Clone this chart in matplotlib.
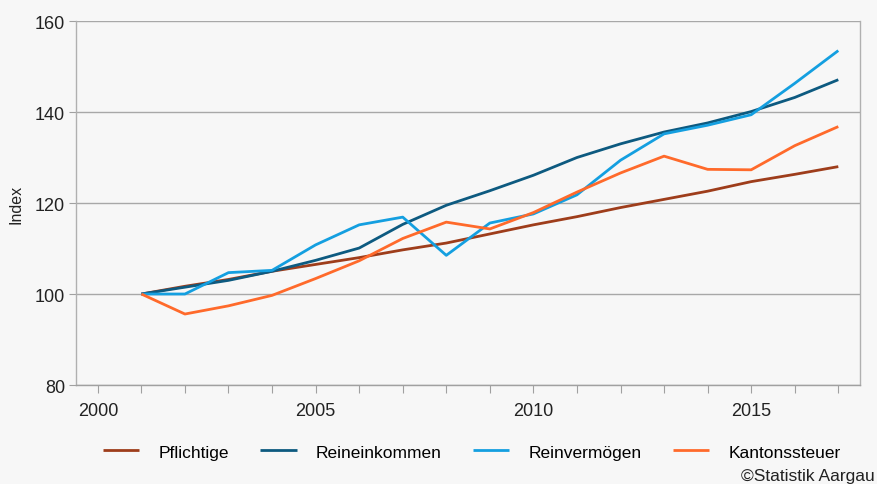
import matplotlib
matplotlib.use("Agg")
import matplotlib.pyplot as plt

years = list(range(2001, 2018))
pflichtige = [100, 101.7, 103.2, 105.0, 106.5, 108.0, 109.7, 111.2, 113.2,
              115.2, 117.0, 119.0, 120.8, 122.6, 124.7, 126.3, 128.0]
reineinkommen = [100, 101.5, 103.0, 105.0, 107.4, 110.1, 115.3, 119.5, 122.7,
                 126.1, 130.0, 133.0, 135.6, 137.6, 140.1, 143.2, 147.1]
reinvermoegen = [100, 100.0, 104.7, 105.2, 110.8, 115.2, 116.9, 108.5, 115.6,
                 117.6, 121.8, 129.4, 135.2, 137.1, 139.4, 146.3, 153.5]
kantonssteuer = [100, 95.6, 97.4, 99.7, 103.4, 107.3, 112.2, 115.8, 114.3,
                 117.9, 122.4, 126.6, 130.3, 127.4, 127.3, 132.6, 136.8]

series = [
    ("Pflichtige", pflichtige, "#9e3d1b"),
    ("Reineinkommen", reineinkommen, "#0d5a80"),
    ("Reinvermögen", reinvermoegen, "#149fe0"),
    ("Kantonssteuer", kantonssteuer, "#ff6a2b"),
]

bg = "#f7f7f7"
plt.rcParams["font.family"] = ["Liberation Sans", "DejaVu Sans"]

fig = plt.figure(figsize=(8.77, 4.85), dpi=100, facecolor=bg)
ax = fig.add_axes([0.0867, 0.2041, 0.894, 0.7505], facecolor=bg)

for label, vals, color in series:
    ax.plot(years, vals, color=color, linewidth=2.0, label=label,
            solid_capstyle="butt", zorder=3)

ax.set_xlim(1999.5, 2017.5)
ax.set_ylim(80, 160)
ax.set_yticks([80, 100, 120, 140, 160])
ax.set_xticks(range(2000, 2018))
ax.set_xticklabels([str(y) if y % 5 == 0 else "" for y in range(2000, 2018)])
ax.grid(axis="y", color="#a8a8a8", linewidth=1.0, zorder=1)

for side in ("left", "right", "bottom"):
    ax.spines[side].set_color("#b0b0b0")
    ax.spines[side].set_linewidth(1.0)
ax.spines["top"].set_visible(False)
ax.spines["bottom"].set_color("#a0a0a0")

ax.tick_params(axis="x", length=6, color="#a0a0a0", labelsize=13, pad=6,
               labelcolor="#222222")
ax.tick_params(axis="y", length=5, color="#a0a0a0", labelsize=13, pad=3,
               labelcolor="#222222")
ax.set_ylabel("Index", fontsize=11.5, labelpad=8, color="#222222")

fig.legend(loc="center", bbox_to_anchor=(0.538, 0.066), ncol=4, frameon=False,
           fontsize=12.5, handlelength=2.1, handletextpad=1.1,
           columnspacing=1.8)
fig.text(0.998, 0.003, "©Statistik Aargau", ha="right", va="bottom",
         fontsize=12.5, color="#222222")

fig.savefig("out.png", dpi=100, facecolor=bg)
